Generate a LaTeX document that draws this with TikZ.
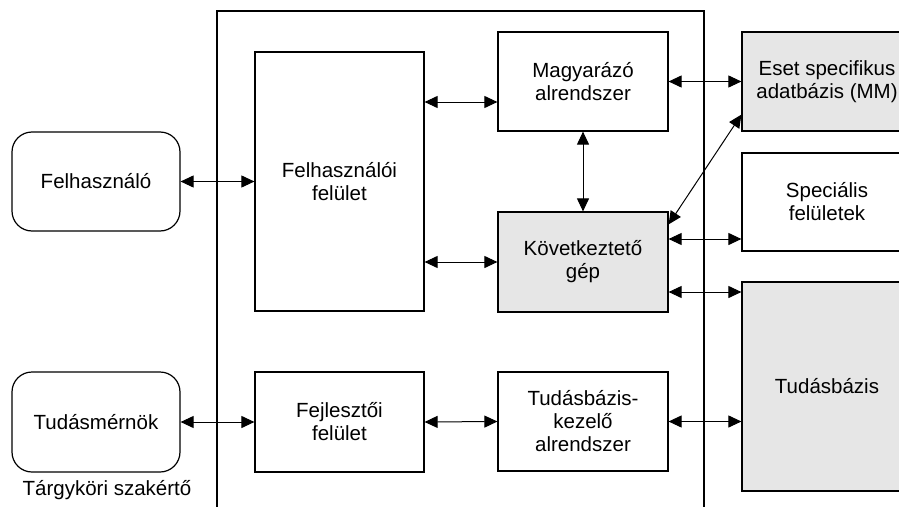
\documentclass[tikz,border=0pt]{standalone}
\usepackage{fontspec}
\setmainfont{Liberation Sans}
\usetikzlibrary{arrows.meta}
\definecolor{szurke}{HTML}{E6E6E6}
\tikzset{
	doboz/.style={draw, line width=1.2pt, inner sep=0pt, align=center, minimum width=170pt},
	kerek/.style={doboz, rounded corners=20pt, minimum width=168pt},
	szurkedoboz/.style={doboz, fill=szurke},
	nyil/.style={line width=1pt, {Triangle[length=13pt,width=12pt]}-{Triangle[length=13pt,width=12pt]}}
}
\begin{document}
\begin{tikzpicture}[x=1pt,y=-1pt, every node/.style={font=\fontsize{20.5}{23}\selectfont}]
	\useasboundingbox (0,0) rectangle (899,506);
	
	% keret
	\draw[line width=1.2pt] (217,515) -- (217,11) -- (704,11) -- (704,515);
	
	% felhasznalok
	\node[kerek, minimum height=99pt] (felh) at (96,181.5) {Felhasználó};
	\node[kerek, minimum height=100pt] (tudm) at (96,422) {Tudásmérnök};
	\node (szak) at (107,490) {Tárgyköri szakértő};
	
	% feluletek
	\node[doboz, minimum width=169pt, minimum height=259pt] (ff) at (339.5,181.5) {Felhasználói\\felület};
	\node[doboz, minimum width=169pt, minimum height=100pt] (fejl) at (339.5,422) {Fejlesztői\\felület};
	
	% alrendszerek
	\node[doboz, minimum height=99pt] (magy) at (583,81.5) {Magyarázó\\alrendszer};
	\node[szurkedoboz, minimum height=100pt] (kov) at (583,262) {Következtető\\gép};
	\node[doboz, minimum height=99pt] (tkez) at (583,421.5) {Tudásbázis-\\kezelő\\alrendszer};
	
	% adatok
	\node[szurkedoboz, minimum height=99pt] (eset) at (827,81.5) {Eset specifikus\\adatbázis (MM)};
	\node[doboz, minimum height=98pt] (spec) at (827,202) {Speciális\\felületek};
	\node[szurkedoboz, minimum height=209pt] (tb) at (827,386.5) {Tudásbázis};
	
	% kapcsolatok
	\draw[nyil] (felh.east) -- (ff.west |- felh.east);
	\draw[nyil] (ff.east |- 0,102) -- (magy.west |- 0,102);
	\draw[nyil] (ff.east |- kov.west) -- (kov.west);
	\draw[nyil] (magy.south) -- (kov.north);
	\draw[nyil] (magy.east) -- (eset.west);
	\draw[nyil] ([yshift=-13pt]kov.north east) -- ([yshift=17pt]eset.south west);
	\draw[nyil] (kov.east |- 0,239) -- (spec.west |- 0,239);
	\draw[nyil] (kov.east |- 0,292) -- (tb.west |- 0,292);
	\draw[nyil] (tudm.east) -- (fejl.west);
	\draw[nyil] (fejl.east) -- (tkez.west);
	\draw[nyil] (tkez.east) -- (tb.west |- tkez.east);
\end{tikzpicture}
\end{document}
